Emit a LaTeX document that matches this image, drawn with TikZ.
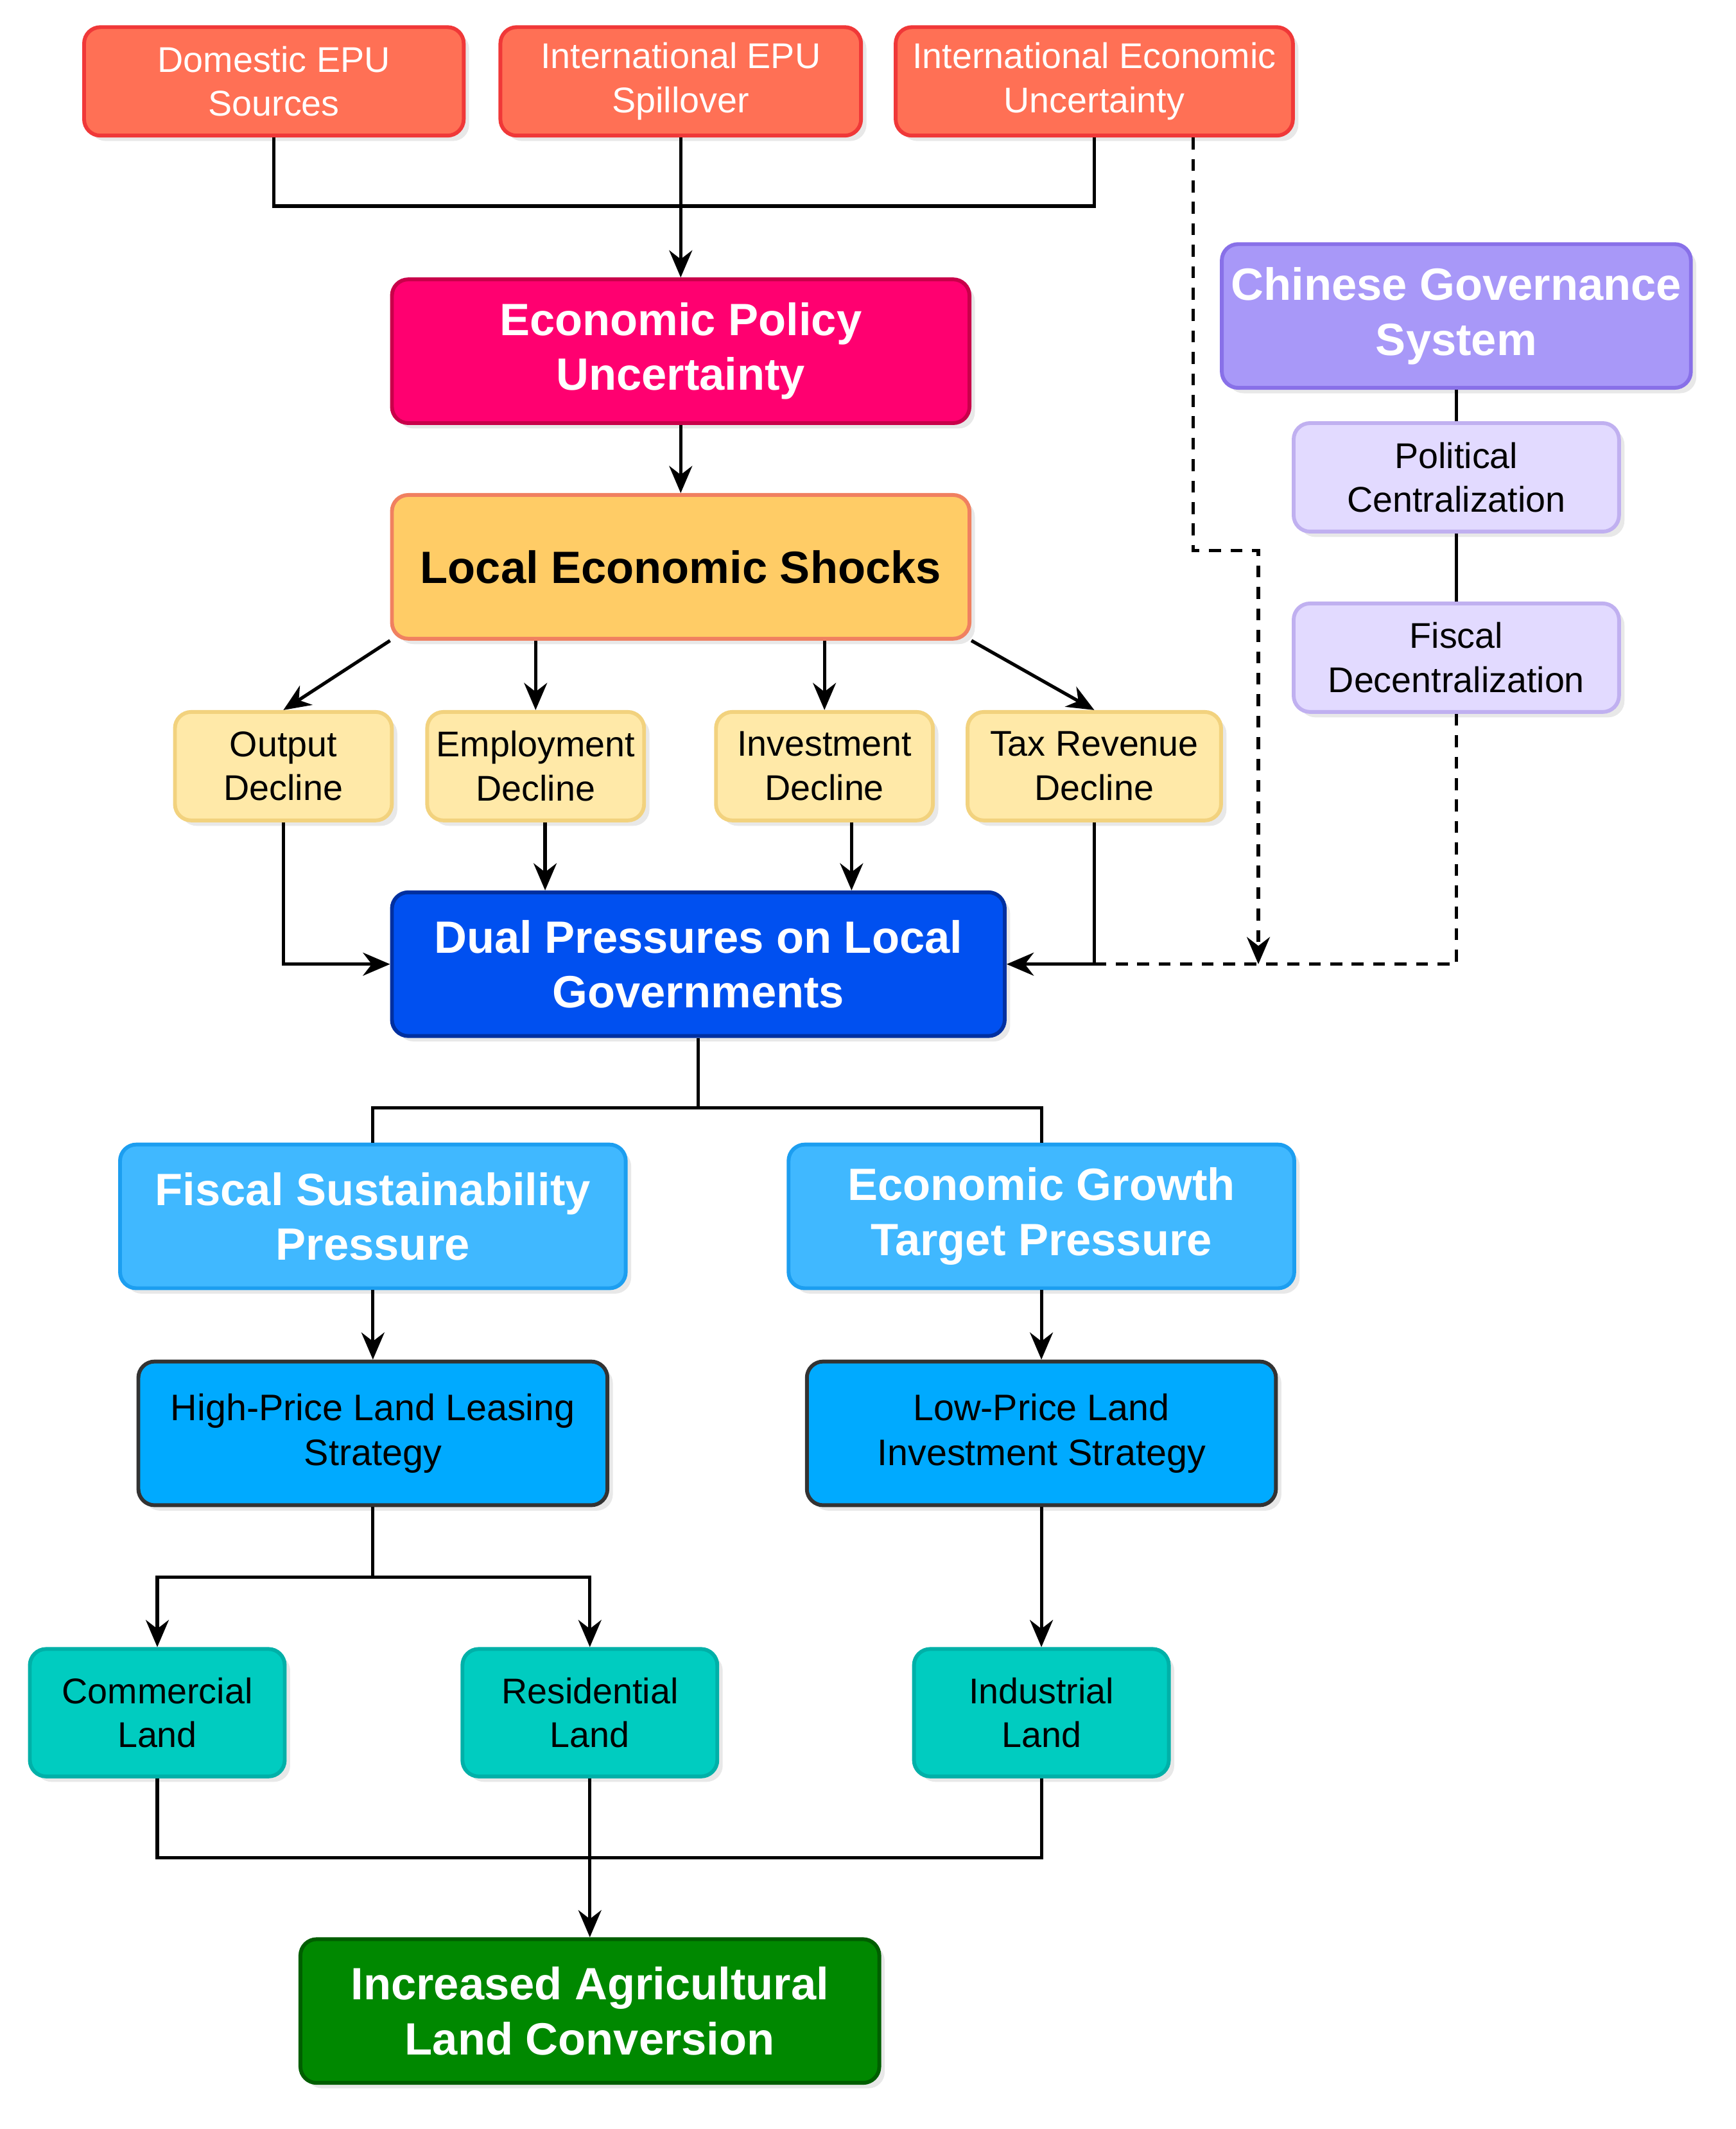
\documentclass[tikz,border=0pt]{standalone}
\usepackage{fontspec}
\setmainfont{Liberation Sans}
\usetikzlibrary{arrows.meta,shadows}
\definecolor{redF}{HTML}{FF7055}
\definecolor{redD}{HTML}{F03838}
\definecolor{epuF}{HTML}{FF0070}
\definecolor{epuD}{HTML}{C8004A}
\definecolor{shkF}{HTML}{FFCC66}
\definecolor{shkD}{HTML}{F08060}
\definecolor{decF}{HTML}{FFE9A8}
\definecolor{decD}{HTML}{F2D27E}
\definecolor{dpF}{HTML}{0050F0}
\definecolor{dpD}{HTML}{0030A0}
\definecolor{gvF}{HTML}{A898F8}
\definecolor{gvD}{HTML}{8870E8}
\definecolor{ltF}{HTML}{E2DAFF}
\definecolor{ltD}{HTML}{C0B0F0}
\definecolor{prF}{HTML}{40B8FF}
\definecolor{prD}{HTML}{1C9EF0}
\definecolor{stF}{HTML}{00AAFF}
\definecolor{tlF}{HTML}{00CCC0}
\definecolor{tlD}{HTML}{00B0A8}
\definecolor{grF}{HTML}{008800}
\definecolor{grD}{HTML}{005E00}
\begin{document}
\begin{tikzpicture}[
  x=0.02cm, y=-0.02cm,
  box/.style={draw, line width=1.6pt, rounded corners=0.24cm, align=center,
    inner sep=2pt, drop shadow={opacity=0.18, shadow xshift=0.08cm, shadow yshift=-0.08cm}},
  sm/.style={box, font=\fontsize{15}{18.5}\selectfont, minimum height=1.6cm},
  big/.style={box, font=\fontsize{19}{23}\selectfont\bfseries, minimum height=2.12cm},
  e/.style={-{Stealth[length=4mm,width=3.4mm]}, line width=1.4pt},
  l/.style={line width=1.4pt},
  d/.style={line width=1.4pt, dash pattern=on 5pt off 4pt}
]
\useasboundingbox (0,0) rectangle (1280,1570);
% sources
\node[sm, fill=redF, draw=redD, text=white, minimum width=5.6cm] (dom) at (202,60) {Domestic EPU\\Sources};
\node[sm, fill=redF, draw=redD, text=white, minimum width=5.32cm] (spill) at (502,60) {International EPU\\Spillover};
\node[sm, fill=redF, draw=redD, text=white, minimum width=5.86cm] (ieu) at (807,60) {International Economic\\Uncertainty};
\node[big, fill=epuF, draw=epuD, text=white, minimum width=8.52cm] (epu) at (502,259) {Economic Policy\\Uncertainty};
\node[big, fill=shkF, draw=shkD, text=black, minimum width=8.52cm] (shock) at (502,418) {Local Economic Shocks};
% declines
\node[sm, fill=decF, draw=decD, minimum width=3.2cm] (out) at (209,565) {Output\\Decline};
\node[sm, fill=decF, draw=decD, minimum width=3.2cm] (emp) at (395,565) {Employment\\Decline};
\node[sm, fill=decF, draw=decD, minimum width=3.2cm] (inv) at (608,565) {Investment\\Decline};
\node[sm, fill=decF, draw=decD, minimum width=3.74cm] (tax) at (807,565) {Tax Revenue\\Decline};
\node[big, fill=dpF, draw=dpD, text=white, minimum width=9.04cm] (dual) at (515,711) {Dual Pressures on Local\\Governments};
% governance
\node[big, fill=gvF, draw=gvD, text=white, minimum width=6.92cm] (gov) at (1074,233) {Chinese Governance\\System};
\node[sm, fill=ltF, draw=ltD, minimum width=4.8cm] (pol) at (1074,352) {Political\\Centralization};
\node[sm, fill=ltF, draw=ltD, minimum width=4.8cm] (fis) at (1074,485) {Fiscal\\Decentralization};
% pressures and strategies
\node[big, fill=prF, draw=prD, text=white, minimum width=7.46cm] (fsp) at (275,897) {Fiscal Sustainability\\Pressure};
\node[big, fill=prF, draw=prD, text=white, minimum width=7.46cm] (egp) at (768,897) {Economic Growth\\Target Pressure};
\node[sm, fill=stF, draw=black!80, font=\fontsize{15.5}{19}\selectfont, minimum width=6.92cm, minimum height=2.12cm] (high) at (275,1057) {High-Price Land Leasing\\Strategy};
\node[sm, fill=stF, draw=black!80, font=\fontsize{15.5}{19}\selectfont, minimum width=6.92cm, minimum height=2.12cm] (low) at (768,1057) {Low-Price Land\\Investment Strategy};
% land types
\node[sm, fill=tlF, draw=tlD, minimum width=3.76cm, minimum height=1.88cm] (com) at (116,1263) {Commercial\\Land};
\node[sm, fill=tlF, draw=tlD, minimum width=3.76cm, minimum height=1.88cm] (res) at (435,1263) {Residential\\Land};
\node[sm, fill=tlF, draw=tlD, minimum width=3.76cm, minimum height=1.88cm] (ind) at (768,1263) {Industrial\\Land};
\node[big, fill=grF, draw=grD, text=white, minimum width=8.54cm] (conv) at (435,1483) {Increased Agricultural\\Land Conversion};
% junctions
\coordinate (j1) at (502,152);
\coordinate (j2) at (515,817);
\coordinate (j3) at (275,1163);
\coordinate (j4) at (435,1370);
\draw[l] (dom.south) |- (j1) -| (ieu.south);
\draw[e] (spill.south) -- (epu.north);
\draw[e] (epu) -- (shock);
\draw[e] (shock.south west) -- (out.north);
\draw[e] (shock.south -| emp) -- (emp.north);
\draw[e] (shock.south -| inv) -- (inv.north);
\draw[e] (shock.south east) -- (tax.north);
\draw[e] (out.south) |- (dual.west);
\draw[e] ([xshift=0.14cm]emp.south) -- ([xshift=0.14cm]emp.south |- dual.north);
\draw[e] ([xshift=0.4cm]inv.south) -- ([xshift=0.4cm]inv.south |- dual.north);
\draw[e] (tax.south) |- (dual.east);
\draw[l] (gov) -- (pol);
\draw[l] (pol) -- (fis);
\coordinate (t1) at (807,711);
\draw[d] (fis.south) |- (t1);
\coordinate (a1) at (880,406);
\coordinate (a2) at (928,711);
\draw[d, -{Stealth[length=4mm,width=3.4mm]}] ([xshift=1.46cm]ieu.south) |- (a1) -| (a2);
\draw[l] (dual.south) -- (j2);
\draw[l] (fsp.north) |- (j2) -| (egp.north);
\draw[e] (fsp) -- (high);
\draw[e] (egp) -- (low);
\draw[l] (high.south) -- (j3);
\draw[e] (j3) -| (com.north);
\draw[e] (j3) -| (res.north);
\draw[e] (low) -- (ind);
\draw[l] (com.south) |- (j4) -| (ind.south);
\draw[e] (res.south) -- (conv.north);
\end{tikzpicture}
\end{document}
